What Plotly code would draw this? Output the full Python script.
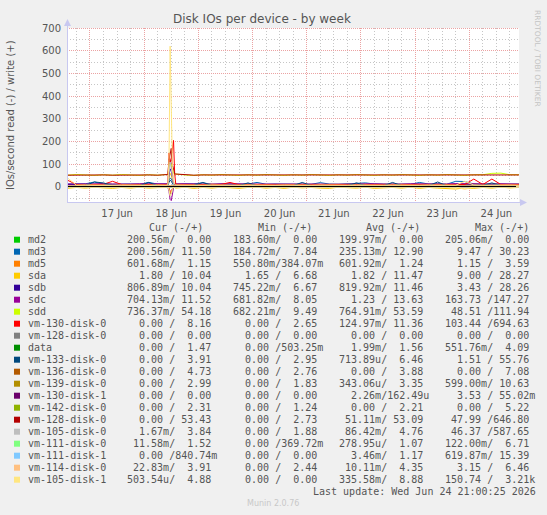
import math
import plotly.graph_objects as go
from datetime import datetime, timedelta

# ---------------- time grids ----------------
T0 = datetime(2026, 6, 16, 14, 0)
base = [T0 + timedelta(hours=4 * k) for k in range(51)]            # 4-hourly
spike_t = [datetime(2026, 6, 18, 10, 30) + timedelta(minutes=30 * j) for j in range(7)]
t_full = base[:12] + spike_t + base[12:]                              # 58 points
t8 = [T0 + timedelta(hours=8 * k) for k in range(26)]                 # 26 points

# ---------------- series (full grid: pre 12 | spike 7 | post 39) ----------------
md3_w = [13, 12, 14, 22, 13, 12, 14, 13, 12, 20, 13, 13] + [13, 30, 40, 35, 25, 15, 13] + \
        [13, 12, 14, 18, 12, 13, 14, 12, 13, 20, 12, 13, 12, 14, 13, 12, 19, 13, 12, 13, 14,
         18, 13, 12, 14, 13, 12, 20, 13, 14, 12, 25, 24, 13, 12, 14, 13, 12, 13]
sda_w = [11, 11, 12, 11, 10, 12, 11, 11, 12, 11, 10, 11] + [11, 40, 60, 50, 30, 15, 11] + \
        [11, 12, 11, 10, 11, 12, 11, 11, 10, 12, 11, 11, 12, 11, 10, 11, 12, 11, 11, 10, 12,
         11, 11, 12, 11, 10, 11, 12, 11, 11, 10, 12, 11, 11, 12, 11, 10, 11, 12]
sda_r = [6, 2, 5, 1, 4, 6, 2, 5, 1, 5, 3, 2] + [2, 10, 25, 20, 10, 3, 2] + \
        [5, 1, 6, 2, 5, 1, 4, 6, 2, 1, 5, 2, 6, 1, 4, 2, 5, 6, 1, 2, 5,
         1, 6, 4, 2, 5, 1, 6, 2, 5, 8, 9, 4, 6, 2, 5, 1, 4, 2]
sdb_w = [11, 12, 11, 11, 12, 11, 10, 11, 12, 11, 11, 11] + [12, 50, 80, 70, 40, 15, 12] + \
        [11, 12, 11, 11, 10, 12, 11, 11, 12, 11, 11, 10, 12, 11, 11, 12, 11, 10, 11, 12, 11,
         11, 12, 11, 10, 11, 12, 11, 11, 12, 11, 13, 12, 11, 10, 11, 12, 11, 11]
sdc_w = [13, 14, 13, 13, 14, 13, 12, 13, 14, 13, 13, 14] + [14, 80, 120, 100, 60, 20, 14] + \
        [13, 14, 13, 13, 12, 14, 13, 13, 14, 13, 13, 12, 14, 13, 13, 14, 13, 12, 13, 14, 13,
         13, 14, 13, 12, 13, 14, 13, 13, 14, 13, 15, 14, 13, 12, 13, 14, 13, 13]
sdc_r = [1, 0.5, 1, 1, 0.5, 1, 1, 0.5, 1, 1, 0.5, 1] + [1, 20, 55, 60, 30, 5, 1] + \
        [1, 0.5, 1, 1, 0.5, 1, 1, 0.5, 1, 1, 0.5, 1, 1, 0.5, 1, 1, 0.5, 1, 1, 0.5, 1,
         1, 0.5, 1, 1, 0.5, 1, 1, 0.5, 1, 2, 3, 1, 1, 0.5, 1, 1, 0.5, 1]
sdd_w = [52, 55, 53, 51, 54, 52, 55, 53, 51, 54, 52, 55] + [54, 90, 110, 100, 80, 60, 56] + \
        [57, 53, 51, 54, 52, 55, 53, 51, 54, 52, 55, 53, 51, 54, 52, 55, 53, 51, 54, 52, 55,
         53, 51, 54, 52, 55, 53, 51, 54, 52, 55, 53, 51, 54, 54, 60, 61, 54, 54]
vm130_w = [30, 11, 10, 11, 12, 25, 11, 10, 11, 12, 11, 10] + [20, 150, 100, 130, 180, 205, 60] + \
          [12, 11, 10, 11, 12, 11, 20, 10, 11, 12, 11, 10, 11, 12, 11, 10, 11, 12, 11, 10, 11,
           12, 11, 10, 11, 12, 11, 10, 11, 12, 11, 10, 11, 35, 11, 35, 11, 10, 11]
vm130_r = [0.1, 0.2, 0.1, 0.1, 0.1, 0.2, 0.1, 0.1, 0.1, 0.2, 0.1, 0.1] + [0, 5, 20, 15, 5, 0, 0] + \
          [0.1, 0.1, 0.2, 0.1, 0.1, 0.1, 0.2, 0.1, 0.1, 0.1, 0.2, 0.1, 0.1, 0.1, 0.2, 0.1, 0.1, 0.1,
           0.2, 0.1, 0.1, 0.1, 0.2, 0.1, 0.1, 0.1, 0.2, 0.1, 0.1, 0.1, 0.2, 0.1, 0.1, 0.1, 0.2, 0.1,
           0.1, 0.1, 0.2]
vm133_w = [6, 5, 7, 22, 18, 6, 5, 7, 6, 20, 6, 5] + [6, 20, 30, 25, 15, 8, 6] + \
          [6, 5, 7, 20, 6, 5, 7, 6, 18, 5, 6, 7, 5, 6, 20, 6, 5, 7, 6, 5, 18,
           6, 7, 5, 20, 6, 5, 7, 6, 22, 5, 6, 7, 5, 6, 18, 6, 5, 6]
vm128_w = [52, 53, 52, 53, 53, 52, 53, 52, 53, 53, 52, 53] + [55, 120, 150, 170, 100, 70, 58] + \
          [57, 53, 52, 53, 53, 52, 53, 52, 53, 53, 52, 53, 52, 53, 53, 52, 53, 52, 53, 53, 52,
           53, 52, 53, 53, 52, 53, 52, 53, 53, 52, 53, 52, 53, 53, 52, 53, 52, 53]
vm128_r = [0, 0.1, 0, 0, 0.1, 0, 0, 0.1, 0, 0, 0.1, 0] + [0, 10, 30, 25, 10, 0, 0] + \
          [0, 0.1, 0, 0, 0.1, 0, 0, 0.1, 0, 0, 0.1, 0, 0, 0.1, 0, 0, 0.1, 0, 0, 0.1, 0,
           0, 0.1, 0, 0, 0.1, 0, 0, 0.1, 0, 0, 0.1, 0, 0, 0.1, 0, 0, 0.1, 0]
vm105d0_w = [5, 4, 5, 4, 5, 5, 4, 5, 4, 5, 5, 4] + [5, 60, 110, 80, 40, 10, 5] + \
            [5, 4, 5, 4, 5, 5, 4, 5, 4, 4, 5, 5, 4, 5, 4, 4, 5, 5, 4, 5, 4,
             4, 5, 5, 4, 5, 4, 4, 5, 5, 4, 5, 4, 4, 5, 5, 4, 5, 4]
vm105d0_r = [0.1, 0.1, 0.1, 0.1, 0.1, 0.1, 0.1, 0.1, 0.1, 0.1, 0.1, 0.1] + [0, 15, 35, 30, 10, 0, 0] + \
            [0.1, 0.1, 0.1, 0.1, 0.1, 0.1, 0.1, 0.1, 0.1, 0.1, 0.1, 0.1, 0.1, 0.1, 0.1, 0.1, 0.1,
             0.1, 0.1, 0.1, 0.1, 0.1, 0.1, 0.1, 0.1, 0.1, 0.1, 0.1, 0.1, 0.1, 0.1, 0.1, 0.1, 0.1,
             0.1, 0.1, 0.1, 0.1, 0.1]
vm105d1_w = [40, 8, 9, 8, 9, 8, 9, 8, 9, 8, 9, 8] + [15, 120, 620, 420, 90, 30, 12] + \
            [9, 8, 9, 8, 9, 8, 9, 8, 9, 8, 9, 8, 9, 8, 9, 8, 9, 8, 9, 8, 9,
             8, 9, 8, 9, 8, 9, 8, 9, 8, 9, 8, 25, 9, 8, 9, 8, 9, 8]
vm105d1_r = [0.3, 0.3, 0.3, 0.3, 0.3, 0.3, 0.3, 0.3, 0.3, 0.3, 0.3, 0.3] + [0, 10, 40, 30, 5, 0, 0] + \
            [0.3, 0.3, 0.3, 0.3, 0.3, 0.3, 0.3, 0.3, 0.3, 0.3, 0.3, 0.3, 0.3, 0.3, 0.3, 0.3, 0.3,
             0.3, 0.3, 0.3, 0.3, 0.3, 0.3, 0.3, 0.3, 0.3, 0.3, 0.3, 0.3, 0.3, 0.3, 0.3, 10, 0.3,
             0.3, 0.3, 0.3, 0.3, 0.3]

# ---------------- minor series (8-hour grid, 26 points) ----------------
zeros8 = [0, 0, 0, 0, 0, 0, 0, 0, 0, 0, 0, 0, 0, 0, 0, 0, 0, 0, 0, 0, 0, 0, 0, 0, 0, 0]
md2_w = zeros8
md2_r = [0.2, 0.19, 0.2, 0.21, 0.2, 0.19, 0.2, 0.2, 0.21, 0.2, 0.19, 0.2, 0.2,
         0.21, 0.2, 0.19, 0.2, 0.2, 0.21, 0.2, 0.19, 0.2, 0.2, 0.21, 0.2, 0.2]
md3_r = [0.23, 0.24, 0.23, 0.22, 0.24, 0.23, 0.25, 0.23, 0.22, 0.24, 0.23, 0.24, 0.23,
         0.22, 0.24, 0.23, 0.25, 0.23, 0.22, 0.24, 0.23, 0.24, 0.23, 0.22, 0.24, 0.2]
md5_w = [1.2, 1.3, 1.1, 1.2, 1.3, 1.2, 1.4, 1.2, 1.1, 1.3, 1.2, 1.2, 1.3,
         1.1, 1.2, 1.3, 1.2, 1.2, 1.1, 1.3, 1.2, 1.2, 1.3, 1.1, 1.2, 1.2]
md5_r = [0.6, 0.6, 0.6, 0.6, 0.6, 0.6, 0.6, 0.6, 0.6, 0.6, 0.6, 0.6, 0.6,
         0.6, 0.6, 0.6, 0.6, 0.6, 0.6, 0.6, 0.6, 0.6, 0.6, 0.6, 0.6, 0.6]
sdb_r = [0.8, 0.8, 0.9, 0.8, 0.8, 0.8, 1.2, 0.8, 0.8, 0.9, 0.8, 0.8, 0.8,
         0.9, 0.8, 0.8, 0.8, 0.9, 0.8, 0.8, 0.8, 0.9, 0.8, 0.8, 0.8, 0.8]
sdd_r = [0.7, 0.8, 0.7, 0.8, 0.7, 0.8, 0.9, 0.7, 0.8, 0.7, 0.8, 0.7, 0.8,
         0.7, 0.8, 0.7, 0.8, 0.7, 0.8, 0.7, 0.8, 0.7, 0.8, 0.7, 0.8, 0.7]
vm128g_w = zeros8
vm128g_r = zeros8
data_w = [1.5, 1.6, 1.5, 1.6, 1.5, 1.6, 1.7, 1.5, 1.6, 1.5, 1.6, 1.5, 1.6,
          1.5, 1.6, 1.5, 1.6, 1.5, 1.6, 1.5, 1.6, 1.5, 1.6, 1.5, 1.6, 1.5]
data_r = zeros8
vm133_r = zeros8
vm136_w = [3.9, 3.8, 3.9, 4.0, 3.9, 3.8, 4.2, 3.9, 3.8, 3.9, 4.0, 3.9, 3.8,
           3.9, 4.0, 3.9, 3.8, 3.9, 4.0, 3.9, 3.8, 3.9, 4.0, 3.9, 3.8, 4.7]
vm136_r = zeros8
vm139_w = [3.3, 3.4, 3.3, 3.2, 3.4, 3.3, 3.6, 3.3, 3.4, 3.3, 3.2, 3.4, 3.3,
           3.3, 3.4, 3.3, 3.2, 3.4, 3.3, 3.3, 3.4, 3.3, 3.2, 3.4, 3.3, 3.0]
vm139_r = zeros8
vm130d1_w = zeros8
vm130d1_r = zeros8
vm142_w = [2.2, 2.3, 2.2, 2.1, 2.2, 2.3, 2.4, 2.2, 2.1, 2.2, 2.3, 2.2, 2.1,
           2.2, 2.3, 2.2, 2.1, 2.2, 2.3, 2.2, 2.1, 2.2, 2.3, 2.2, 2.1, 2.3]
vm142_r = zeros8
vm111d0_w = [1.1, 1.0, 1.1, 1.1, 1.0, 1.1, 1.3, 1.1, 1.0, 1.1, 1.1, 1.0, 1.1,
             1.1, 1.0, 1.1, 1.1, 1.0, 1.1, 1.1, 1.0, 1.1, 1.1, 1.0, 1.1, 1.5]
vm111d0_r = zeros8
vm111d1_w = [1.2, 1.1, 1.2, 1.2, 1.1, 1.2, 1.5, 1.2, 1.1, 1.2, 1.2, 1.1, 1.2,
             1.2, 1.1, 1.2, 1.2, 1.1, 1.2, 1.2, 1.1, 1.2, 1.2, 1.1, 1.2, 0.8]
vm111d1_r = zeros8
vm114_w = [4.3, 4.4, 4.3, 4.2, 4.4, 4.3, 4.6, 4.3, 4.4, 4.3, 4.2, 4.4, 4.3,
           4.3, 4.4, 4.3, 4.2, 4.4, 4.3, 4.3, 4.4, 4.3, 4.2, 4.4, 4.3, 3.9]
vm114_r = zeros8

# ---------------- legend table ----------------
labels = ["md2", "md3", "md5", "sda", "sdb", "sdc", "sdd", "vm-130-disk-0", "vm-128-disk-0",
          "data", "vm-133-disk-0", "vm-136-disk-0", "vm-139-disk-0", "vm-130-disk-1",
          "vm-142-disk-0", "vm-128-disk-0", "vm-105-disk-0", "vm-111-disk-0", "vm-111-disk-1",
          "vm-114-disk-0", "vm-105-disk-1"]
colors = ["#00CC00", "#0066B3", "#FF8000", "#FFCC00", "#330099", "#990099", "#CCFF00",
          "#FF0000", "#808080", "#008F00", "#00487D", "#B35A00", "#B38F00", "#6B006B",
          "#8FB300", "#B30000", "#BEBEBE", "#80FF80", "#80C9FF", "#FFC080", "#FFE680"]
cur_col = ["200.56m/  0.00 ", "200.56m/ 11.50 ", "601.68m/  1.15 ", "  1.80 / 10.04 ",
           "806.89m/ 10.04 ", "704.13m/ 11.52 ", "736.37m/ 54.18 ", "  0.00 /  8.16 ",
           "  0.00 /  0.00 ", "  0.00 /  1.47 ", "  0.00 /  3.91 ", "  0.00 /  4.73 ",
           "  0.00 /  2.99 ", "  0.00 /  0.00 ", "  0.00 /  2.31 ", "  0.00 / 53.43 ",
           "  1.67m/  3.84 ", " 11.58m/  1.52 ", "  0.00 /840.74m", " 22.83m/  3.91 ",
           "503.54u/  4.88 "]
min_col = ["183.60m/  0.00 ", "184.72m/  7.84 ", "550.80m/384.07m", "  1.65 /  6.68 ",
           "745.22m/  6.67 ", "681.82m/  8.05 ", "682.21m/  9.49 ", "  0.00 /  2.65 ",
           "  0.00 /  0.00 ", "  0.00 /503.25m", "  0.00 /  2.95 ", "  0.00 /  2.76 ",
           "  0.00 /  1.83 ", "  0.00 /  0.00 ", "  0.00 /  1.24 ", "  0.00 /  2.73 ",
           "  0.00 /  1.88 ", "  0.00 /369.72m", "  0.00 /  0.00 ", "  0.00 /  2.44 ",
           "  0.00 /  0.00 "]
avg_col = ["199.97m/  0.00 ", "235.13m/ 12.90 ", "601.92m/  1.24 ", "  1.82 / 11.47 ",
           "819.92m/ 11.46 ", "  1.23 / 13.63 ", "764.91m/ 53.59 ", "124.97m/ 11.36 ",
           "  0.00 /  0.00 ", "  1.99m/  1.56 ", "713.89u/  6.46 ", "  0.00 /  3.88 ",
           "343.06u/  3.35 ", "  2.26m/162.49u", "  0.00 /  2.21 ", " 51.11m/ 53.09 ",
           " 86.42m/  4.76 ", "278.95u/  1.07 ", "  3.46m/  1.17 ", " 10.11m/  4.35 ",
           "335.58m/  8.88 "]
max_col = ["205.06m/  0.00 ", "  9.47 / 30.23 ", "  1.15 /  3.59 ", "  9.00 / 28.27 ",
           "  3.43 / 28.26 ", "163.73 /147.27 ", " 48.51 /111.94 ", "103.44 /694.63 ",
           "  0.00 /  0.00 ", "551.76m/  4.09 ", "  1.51 / 55.76 ", "  0.00 /  7.08 ",
           "599.00m/ 10.63 ", "  3.53 / 55.02m", "  0.00 /  5.22 ", " 47.99 /646.80 ",
           " 46.37 /587.65 ", "122.00m/  6.71 ", "619.87m/ 15.39 ", "  3.15 /  6.46 ",
           "150.74 /  3.21k"]
headers = ["Cur (-/+)", "Min (-/+)", "Avg (-/+)", "Max (-/+)"]

series = [
    (t8, md2_r, t8, md2_w), (t8, md3_r, t_full, md3_w), (t8, md5_r, t8, md5_w),
    (t_full, sda_r, t_full, sda_w), (t8, sdb_r, t_full, sdb_w), (t_full, sdc_r, t_full, sdc_w),
    (t8, sdd_r, t_full, sdd_w), (t_full, vm130_r, t_full, vm130_w), (t8, vm128g_r, t8, vm128g_w),
    (t8, data_r, t8, data_w), (t8, vm133_r, t_full, vm133_w), (t8, vm136_r, t8, vm136_w),
    (t8, vm139_r, t8, vm139_w), (t8, vm130d1_r, t8, vm130d1_w), (t8, vm142_r, t8, vm142_w),
    (t_full, vm128_r, t_full, vm128_w), (t_full, vm105d0_r, t_full, vm105d0_w),
    (t8, vm111d0_r, t8, vm111d0_w), (t8, vm111d1_r, t8, vm111d1_w), (t8, vm114_r, t8, vm114_w),
    (t_full, vm105d1_r, t_full, vm105d1_w),
]

# ---------------- figure geometry ----------------
L, R, T, B = 67, 519, 28, 203
W, H = R - L, B - T
X_START = datetime(2026, 6, 16, 13, 49)
X_END = datetime(2026, 6, 24, 22, 1)
Y_MIN, Y_MAX = -70.5, 700


def px(x):
    return (x - L) / W


def py(y):
    return (B - y) / H


fig = go.Figure()
for (tr, vr, tw, vw), c in zip(series, colors):
    fig.add_trace(go.Scatter(x=tr, y=[-v for v in vr], mode="lines",
                             line=dict(color=c, width=1), hoverinfo="skip"))
    fig.add_trace(go.Scatter(x=tw, y=vw, mode="lines",
                             line=dict(color=c, width=1), hoverinfo="skip"))

grid_major = "#eba3a3"
grid_minor = "#c6c6c6"
axis_col = "#c8c8f0"

fig.update_layout(
    width=547, height=515,
    margin=dict(l=L, r=547 - R, t=T, b=515 - B),
    paper_bgcolor="#F0F0F0", plot_bgcolor="#FFFFFF",
    showlegend=False,
    font=dict(family="DejaVu Sans", size=10, color="#555555"),
    xaxis=dict(type="date", range=[X_START, X_END],
               tick0="2026-06-17", dtick=86400000, ticklabelmode="period",
               tickformat="%d %b", showgrid=False, ticks="", zeroline=False,
               showline=False, ticklabelstandoff=3,
               tickfont=dict(size=10, color="#555555")),
    yaxis=dict(range=[Y_MIN, Y_MAX], tick0=0, dtick=100, showgrid=False, ticks="",
               zeroline=False, showline=False, ticklabelstandoff=5,
               tickfont=dict(size=10, color="#555555")),
)

shapes = []
# crisp dotted grid (x/y refer to the axes so the shapes sit above the plot background)
total_min = (X_END - X_START).total_seconds() / 60.0


def xval(pix):
    return X_START + timedelta(minutes=(pix - L) / W * total_min)


def yval(pix):
    return Y_MAX - (pix - T) / H * (Y_MAX - Y_MIN)


gt = datetime(2026, 6, 16, 18, 0)
while gt < X_END:
    xpix = L + (gt - X_START).total_seconds() / 60.0 / total_min * W
    cx = math.floor(xpix) + 0.5
    major = gt.hour == 0
    shapes.append(dict(type="line", xref="x", yref="y", x0=xval(cx), x1=xval(cx),
                       y0=Y_MIN, y1=Y_MAX, layer="below",
                       line=dict(color=grid_major if major else grid_minor, width=1,
                                 dash="1px,1px" if major else "1px,2px")))
    gt += timedelta(hours=6)
for gv in range(-50, 701, 50):
    ypix = T + (Y_MAX - gv) * H / (Y_MAX - Y_MIN)
    cy = math.floor(ypix) + 0.5
    major = gv % 100 == 0
    shapes.append(dict(type="line", xref="x", yref="y", x0=X_START, x1=X_END,
                       y0=yval(cy), y1=yval(cy), layer="below",
                       line=dict(color=grid_major if major else grid_minor, width=1,
                                 dash="1px,1px" if major else "1px,2px")))

# zero line
zpix = math.floor(T + Y_MAX * H / (Y_MAX - Y_MIN)) + 0.5
shapes.append(dict(type="line", xref="paper", yref="paper", x0=0, x1=px(516), y0=py(zpix),
                   y1=py(zpix), line=dict(color="#000000", width=1), layer="above"))
# axes with arrows
shapes.append(dict(type="line", xref="paper", yref="paper", x0=px(67.5), x1=px(67.5),
                   y0=py(203), y1=py(24), line=dict(color=axis_col, width=1), layer="above"))
shapes.append(dict(type="line", xref="paper", yref="paper", x0=px(67), x1=px(522),
                   y0=py(202.5), y1=py(202.5), line=dict(color=axis_col, width=1), layer="above"))
shapes.append(dict(type="path", xref="paper", yref="paper",
                   path=f"M {px(67.5)} {py(19)} L {px(64)} {py(26)} L {px(71)} {py(26)} Z",
                   fillcolor=axis_col, line=dict(width=0), layer="above"))
shapes.append(dict(type="path", xref="paper", yref="paper",
                   path=f"M {px(527)} {py(202.5)} L {px(520)} {py(199)} L {px(520)} {py(206)} Z",
                   fillcolor=axis_col, line=dict(width=0), layer="above"))

annotations = []
annotations.append(dict(text="Disk IOs per device - by week", x=px(261.5), y=py(19),
                        xref="paper", yref="paper", showarrow=False, xanchor="center",
                        yanchor="middle", font=dict(size=12, color="#555555")))
annotations.append(dict(text="IOs/second read (-) / write (+)", x=px(10.5), y=py(115.5),
                        xref="paper", yref="paper", showarrow=False, textangle=-90,
                        xanchor="center", yanchor="middle", font=dict(size=10, color="#555555")))
annotations.append(dict(text="RRDTOOL / TOBI OETIKER", x=px(537), y=py(58),
                        xref="paper", yref="paper", showarrow=False, textangle=90,
                        xanchor="center", yanchor="middle", font=dict(size=7.5, color="#c4c4c4")))

mono = "DejaVu Sans Mono"
txt_col = "#555555"


def mono_ann(text, x, y, anchor="left", size=10, color=txt_col):
    return dict(text=text.replace(" ", "\u00a0"), x=px(x), y=py(y), xref="paper",
                yref="paper", showarrow=False, xanchor=anchor, yanchor="middle",
                font=dict(family=mono, size=size, color=color))


for h, hx in zip(headers, [147, 256, 364, 473]):
    annotations.append(mono_ann(h, hx, 227.5))

col_x = [125.2, 231.2, 337.2, 442.7]
for i, lab in enumerate(labels):
    ry = 239.7 + 12 * i
    shapes.append(dict(type="rect", xref="paper", yref="paper", x0=px(14), x1=px(20),
                       y0=py(ry + 3), y1=py(ry - 3), fillcolor=colors[i],
                       line=dict(width=0), layer="above"))
    annotations.append(mono_ann(lab, 26, ry))
    for col, cx in zip([cur_col, min_col, avg_col, max_col], col_x):
        annotations.append(mono_ann(col[i], cx, ry))

annotations.append(mono_ann("Last update: Wed Jun 24 21:00:25 2026", 311, 491.5))
annotations.append(dict(text="Munin 2.0.76", x=px(273), y=py(504), xref="paper", yref="paper",
                        showarrow=False, xanchor="center", yanchor="middle",
                        font=dict(size=8, color="#c8c8c8")))

fig.update_layout(shapes=shapes, annotations=annotations)
fig.write_html("out.html")
